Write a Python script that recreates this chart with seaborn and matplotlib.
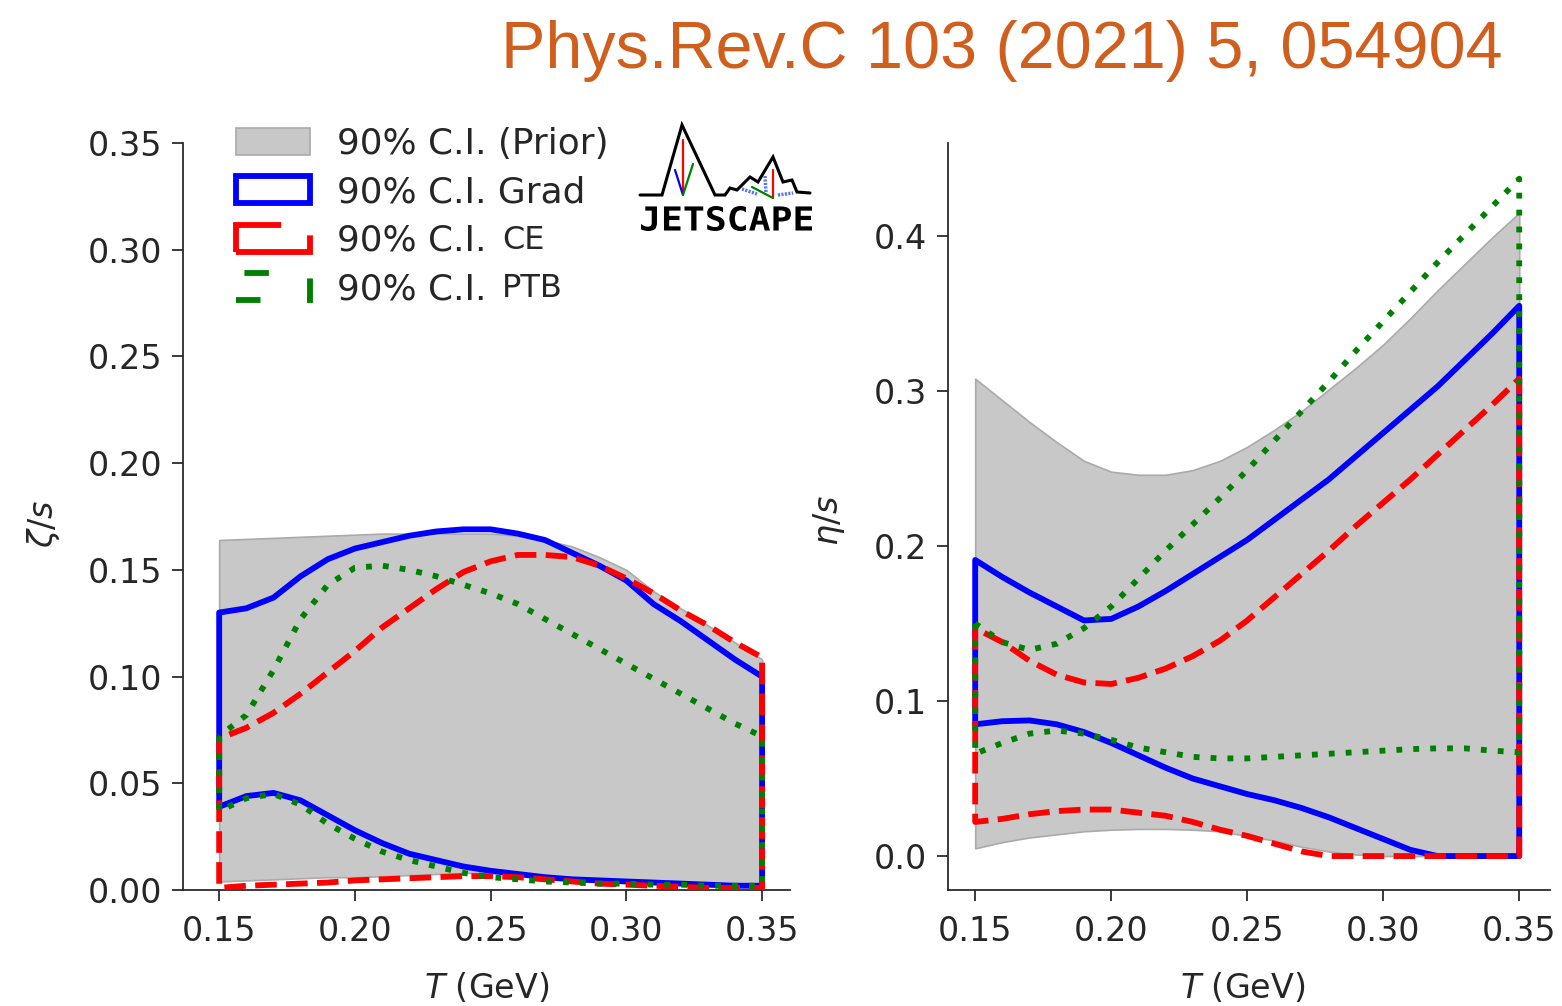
import numpy as np
import pandas as pd
import matplotlib
matplotlib.use("Agg")
import matplotlib.pyplot as plt
import seaborn as sns
from matplotlib.textpath import TextPath
from matplotlib.patches import PathPatch
from matplotlib.font_manager import FontProperties
from matplotlib.transforms import Affine2D

# Temperature grid (GeV)
temps = [0.15, 0.16, 0.17, 0.18, 0.19, 0.20, 0.21, 0.22, 0.23, 0.24, 0.25,
         0.26, 0.27, 0.28, 0.29, 0.30, 0.31, 0.32, 0.33, 0.34, 0.35]

# Bulk viscosity zeta/s : 90% credible intervals
zeta_prior_lo = [0.004, 0.0045, 0.005, 0.0055, 0.006, 0.006, 0.0065, 0.007, 0.0075, 0.008, 0.008,
                 0.0075, 0.007, 0.006, 0.0055, 0.005, 0.0045, 0.004, 0.0035, 0.003, 0.003]
zeta_prior_hi = [0.164, 0.1645, 0.165, 0.1655, 0.166, 0.1665, 0.167, 0.167, 0.167, 0.167, 0.167,
                 0.166, 0.164, 0.161, 0.156, 0.150, 0.140, 0.132, 0.124, 0.116, 0.108]
zeta_grad_lo = [0.039, 0.044, 0.0455, 0.042, 0.035, 0.028, 0.022, 0.017, 0.014, 0.011, 0.009,
                0.0075, 0.006, 0.005, 0.0045, 0.004, 0.0035, 0.003, 0.0025, 0.002, 0.002]
zeta_grad_hi = [0.130, 0.132, 0.137, 0.147, 0.155, 0.160, 0.163, 0.166, 0.168, 0.169, 0.169,
                0.167, 0.164, 0.158, 0.152, 0.145, 0.134, 0.126, 0.117, 0.108, 0.100]
zeta_ce_lo = [0.001, 0.002, 0.0025, 0.003, 0.0035, 0.0045, 0.005, 0.0055, 0.006, 0.0065, 0.0065,
              0.006, 0.005, 0.004, 0.003, 0.0025, 0.002, 0.0015, 0.001, 0.001, 0.001]
zeta_ce_hi = [0.071, 0.076, 0.083, 0.092, 0.102, 0.112, 0.123, 0.132, 0.141, 0.149, 0.154,
              0.157, 0.157, 0.156, 0.152, 0.146, 0.139, 0.131, 0.124, 0.116, 0.109]
zeta_ptb_lo = [0.037, 0.043, 0.045, 0.040, 0.031, 0.024, 0.018, 0.014, 0.011, 0.008, 0.006,
               0.005, 0.004, 0.0035, 0.003, 0.003, 0.0025, 0.0025, 0.002, 0.002, 0.002]
zeta_ptb_hi = [0.072, 0.082, 0.103, 0.127, 0.143, 0.151, 0.152, 0.150, 0.147, 0.143, 0.139,
               0.134, 0.127, 0.120, 0.113, 0.106, 0.099, 0.092, 0.085, 0.078, 0.072]

# Shear viscosity eta/s : 90% credible intervals
eta_prior_lo = [0.005, 0.009, 0.012, 0.014, 0.016, 0.017, 0.0175, 0.0175, 0.017, 0.016, 0.013,
                0.010, 0.006, 0.003, 0.001, 0.0, 0.0, 0.0, 0.0, 0.0, 0.0]
eta_prior_hi = [0.308, 0.294, 0.280, 0.267, 0.255, 0.248, 0.246, 0.246, 0.249, 0.255, 0.264,
                0.275, 0.287, 0.301, 0.315, 0.330, 0.347, 0.365, 0.382, 0.399, 0.415]
eta_grad_lo = [0.085, 0.087, 0.0875, 0.085, 0.080, 0.073, 0.065, 0.057, 0.050, 0.045, 0.040,
               0.036, 0.031, 0.025, 0.018, 0.011, 0.004, 0.0, 0.0, 0.0, 0.0]
eta_grad_hi = [0.191, 0.180, 0.170, 0.161, 0.152, 0.153, 0.161, 0.171, 0.182, 0.193, 0.204,
               0.217, 0.230, 0.243, 0.258, 0.273, 0.288, 0.303, 0.320, 0.337, 0.355]
eta_ce_lo = [0.022, 0.024, 0.027, 0.029, 0.030, 0.030, 0.028, 0.026, 0.022, 0.017, 0.013,
             0.008, 0.003, 0.0, 0.0, 0.0, 0.0, 0.0, 0.0, 0.0, 0.0]
eta_ce_hi = [0.147, 0.138, 0.126, 0.117, 0.112, 0.111, 0.115, 0.121, 0.129, 0.139, 0.152,
             0.167, 0.182, 0.197, 0.213, 0.228, 0.243, 0.259, 0.275, 0.291, 0.308]
eta_ptb_lo = [0.066, 0.073, 0.079, 0.081, 0.079, 0.075, 0.070, 0.067, 0.064, 0.063, 0.063,
              0.064, 0.065, 0.066, 0.067, 0.068, 0.069, 0.0695, 0.0695, 0.068, 0.067]
eta_ptb_hi = [0.150, 0.138, 0.133, 0.137, 0.147, 0.161, 0.179, 0.197, 0.214, 0.231, 0.249,
              0.268, 0.287, 0.306, 0.326, 0.345, 0.364, 0.383, 0.401, 0.419, 0.437]

band_order = ["prior", "grad", "ce", "ptb"]
band_labels = {
    "prior": "90% C.I. (Prior)",
    "grad": "90% C.I. Grad",
    "ce": "90% C.I.",
    "ptb": "90% C.I.",
}
# raised tags that follow the CE and PTB legend entries
band_tags = {"ce": "CE", "ptb": "PTB"}

zeta_ticks = [0.00, 0.05, 0.10, 0.15, 0.20, 0.25, 0.30, 0.35]
eta_ticks = [0.0, 0.1, 0.2, 0.3, 0.4]
t_ticks = [0.15, 0.20, 0.25, 0.30, 0.35]

title_text = "Phys.Rev.C 103 (2021) 5, 054904"


def tidy(lo_hi):
    frames = []
    for band, (lo, hi) in lo_hi.items():
        frames.append(pd.DataFrame({"T": temps, "band": band, "lo": lo, "hi": hi}))
    return pd.concat(frames, ignore_index=True)


zeta_df = tidy({"prior": (zeta_prior_lo, zeta_prior_hi), "grad": (zeta_grad_lo, zeta_grad_hi),
                "ce": (zeta_ce_lo, zeta_ce_hi), "ptb": (zeta_ptb_lo, zeta_ptb_hi)})
eta_df = tidy({"prior": (eta_prior_lo, eta_prior_hi), "grad": (eta_grad_lo, eta_grad_hi),
               "ce": (eta_ce_lo, eta_ce_hi), "ptb": (eta_ptb_lo, eta_ptb_hi)})

sns.set_theme(style="ticks")
plt.rcParams["font.family"] = ["DejaVu Sans"]
plt.rcParams["mathtext.fontset"] = "dejavusans"

ink = "#2b2b2b"
text_ink = "#262626"
band_style = {
    "prior": dict(facecolor="#c8c8c8", edgecolor="#aaaaaa", linewidth=1.2, zorder=1),
    "grad": dict(facecolor="none", edgecolor="blue", linewidth=4.2, linestyle="-", zorder=2),
    "ce": dict(facecolor="none", edgecolor="red", linewidth=4.2, linestyle=(0, (3.7, 1.6)), zorder=3),
    "ptb": dict(facecolor="none", edgecolor="green", linewidth=4.2, linestyle=(0, (1, 1.9)), zorder=4),
}

fig = plt.figure(figsize=(15.62, 10.06), dpi=100)
ax_l = fig.add_axes([0.1172, 0.1153, 0.3886, 0.7425])
ax_r = fig.add_axes([0.6069, 0.1153, 0.3854, 0.7425])


def draw_bands(ax, df):
    for band in band_order:
        d = df[df["band"] == band]
        ax.fill_between(d["T"], d["lo"], d["hi"], label=band_labels[band], **band_style[band])


draw_bands(ax_l, zeta_df)
draw_bands(ax_r, eta_df)

for ax in (ax_l, ax_r):
    sns.despine(ax=ax)
    for s in ("left", "bottom"):
        ax.spines[s].set_linewidth(1.3)
        ax.spines[s].set_color(ink)
    ax.tick_params(labelsize=24, length=8, width=1.3, color=ink, labelcolor=text_ink,
                   pad=7, direction="out")
    ax.tick_params(axis="x", pad=10)
    ax.set_xticks(t_ticks)
    ax.set_xticklabels([f"{t:.2f}" for t in t_ticks])
    ax.set_xlabel(r"$T$ (GeV)", fontsize=24, color=text_ink)

ax_l.set_xlim(0.1367, 0.3603)
ax_l.set_ylim(0, 0.35)
ax_l.set_yticks(zeta_ticks)
ax_l.set_yticklabels([f"{t:.2f}" for t in zeta_ticks])
ax_l.set_ylabel(r"$\zeta/s$", fontsize=24, color=text_ink)
ax_l.yaxis.set_label_coords(-0.199, 0.49)
ax_l.xaxis.set_label_coords(0.5, -0.109)

ax_r.set_xlim(0.14, 0.3613)
ax_r.set_ylim(-0.0219, 0.46)
ax_r.set_yticks(eta_ticks)
ax_r.set_yticklabels([f"{t:.1f}" for t in eta_ticks])
ax_r.set_ylabel(r"$\eta/s$", fontsize=24, color=text_ink)
ax_r.yaxis.set_label_coords(-0.167, 0.495)
ax_r.xaxis.set_label_coords(0.49, -0.109)

leg = ax_l.legend(loc="upper left", bbox_to_anchor=(0.0865, 1.022), frameon=False, fontsize=25.8,
                  handlelength=2.09, handleheight=0.78, handletextpad=0.75, labelspacing=0.405,
                  borderpad=0, borderaxespad=0)
for band, txt in zip(band_order, leg.get_texts()):
    txt.set_color(text_ink)
    if band in band_tags:
        # drawn after the legend so the entry text is already placed
        ax_l.annotate(band_tags[band], xy=(1, 0), xycoords=txt, xytext=(11, 6.5),
                      textcoords="offset points", ha="left", va="baseline",
                      fontsize=23, color=text_ink, annotation_clip=False, zorder=8)

fig.text(1503 / 1562, (1006 - 68) / 1006, title_text, ha="right", va="baseline",
         fontsize=47.9, color="#D05F1E", family=["Liberation Sans", "DejaVu Sans"])

# JETSCAPE logo, drawn in figure pixel space
logo_ridge_x = [640, 662, 682, 715, 725, 730, 737, 750, 758, 773, 783, 792, 797, 810]
logo_ridge_y = [195, 195, 125, 195, 195, 188, 190, 177, 182, 157, 182, 180, 192, 193]
lax = fig.add_axes([0, 0, 1, 1], zorder=10)
lax.set_xlim(0, 1562)
lax.set_ylim(1006, 0)
lax.axis("off")
lax.patch.set_alpha(0)
lax.plot(logo_ridge_x, logo_ridge_y, color="black", lw=2.2, solid_joinstyle="miter")
lax.plot([683, 683], [140, 195], color="red", lw=1.6)
lax.plot([675, 683], [170, 195], color="blue", lw=1.6)
lax.plot([693, 683], [164, 195], color="green", lw=1.6)
lax.plot([773, 773], [170, 198], color="red", lw=1.6)
lax.plot([752, 773], [187, 198], color="green", lw=1.6)
lax.plot([742, 757], [189, 194], color="#5577ee", lw=2.5, ls=(0, (0.6, 0.4)))
lax.plot([765, 766], [176, 193], color="#5577ee", lw=2.5, ls=(0, (0.6, 0.4)))
lax.plot([778, 793], [195, 193], color="#5577ee", lw=2.5, ls=(0, (0.6, 0.4)))
tp = TextPath((0, 0), "JETSCAPE", size=100,
              prop=FontProperties(family="DejaVu Sans Mono", weight="bold"))
ext = tp.get_extents()
sx = (812 - 641) / ext.width
sy = (231 - 206) / ext.height
tr = Affine2D().translate(-ext.x0, -ext.y0).scale(sx, -sy).translate(641, 231)
lax.add_patch(PathPatch(tr.transform_path(tp), facecolor="black", edgecolor="none"))

fig.savefig("out.png", dpi=100)
